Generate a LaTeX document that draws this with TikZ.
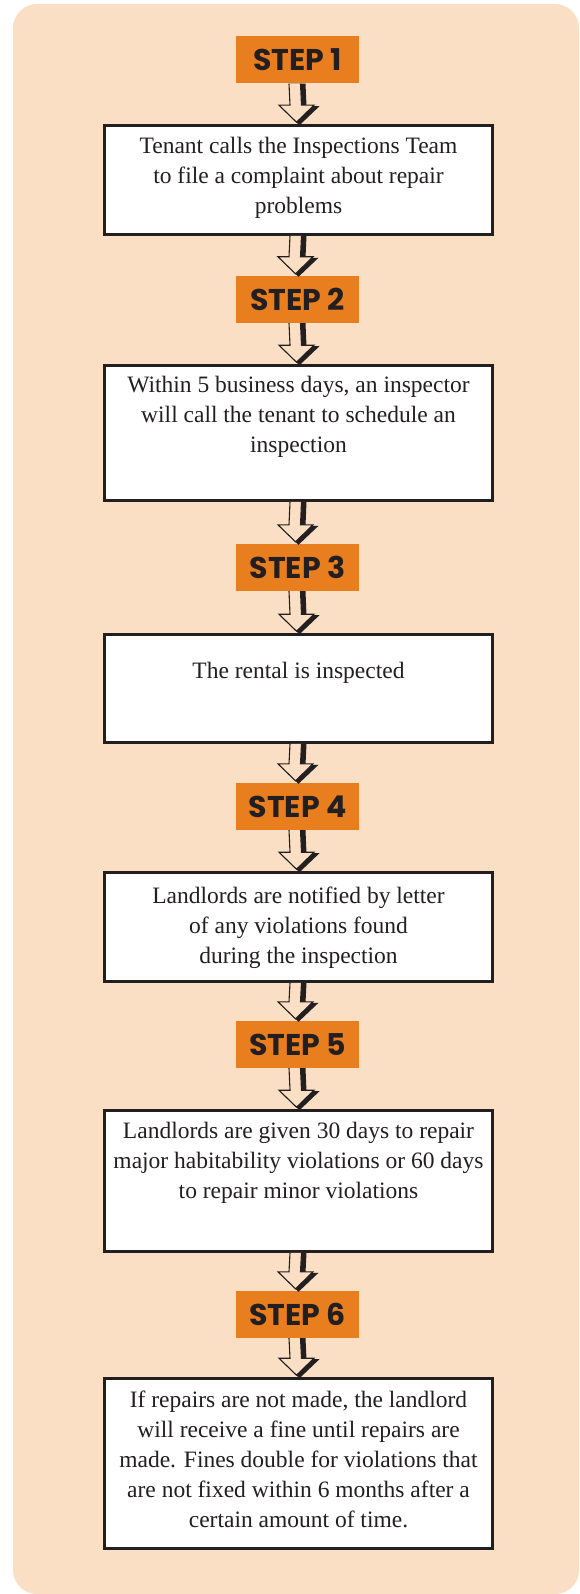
\documentclass[tikz,border=0pt]{standalone}
\usepackage{xcolor}
\usepackage{fontspec}
\setmainfont{Liberation Serif}
\newfontfamily\stepfont{Poppins}
\usepackage{tikz}
\usetikzlibrary{calc}
\definecolor{peach}{RGB}{250,223,197}
\definecolor{steporange}{RGB}{233,126,30}
\definecolor{ink}{RGB}{35,31,32}

\begin{document}
\begin{tikzpicture}[x=1pt,y=-1pt,
stepbox/.style={fill=steporange,minimum width=123pt,minimum height=47pt,inner sep=0pt,text=ink,font=\stepfont\bfseries\fontsize{30}{30}\selectfont},
textbox/.style={draw=ink,fill=white,line width=2.6pt,minimum width=388pt,inner sep=0pt},
boxtext/.style={anchor=north,align=center,inner sep=0pt,text=ink,font=\fontsize{23.5}{30}\selectfont}]

\useasboundingbox (0,0) rectangle (579,1594);
\fill[peach,rounded corners=24pt] (13,4) rectangle (579,1594);

\node[stepbox] (s1) at (297.5,60) {STEP 1};
\node[textbox,minimum height=109pt] (b1) at (298.5,180) {};
\node[stepbox] (s2) at (297.5,299.5) {STEP 2};
\node[textbox,minimum height=135pt] (b2) at (298.5,433) {};
\node[stepbox] (s3) at (297.5,567.5) {STEP 3};
\node[textbox,minimum height=108pt] (b3) at (298.5,688.5) {};
\node[stepbox] (s4) at (297.5,806.5) {STEP 4};
\node[textbox,minimum height=109pt] (b4) at (298.5,927) {};
\node[stepbox] (s5) at (297.5,1044.5) {STEP 5};
\node[textbox,minimum height=141pt] (b5) at (298.5,1181) {};
\node[stepbox] (s6) at (297.5,1314.5) {STEP 6};
\node[textbox,minimum height=170pt] (b6) at (298.5,1463.5) {};

\node[boxtext] (t1) at ($(b1.north)+(0,13)$) {Tenant calls the Inspections Team\\to file a complaint about repair\\problems};
\node[boxtext] (t2) at ($(b2.north)+(0,12)$) {Within 5 business days, an inspector\\will call the tenant to schedule an\\inspection};
\node[boxtext] (t3) at ($(b3.north)+(0,29)$) {The rental is inspected};
\node[boxtext] (t4) at ($(b4.north)+(0,16)$) {Landlords are notified by letter\\of any violations found\\during the inspection};
\node[boxtext] (t5) at ($(b5.north)+(0,13)$) {Landlords are given 30 days to repair\\major habitability violations or 60 days\\to repair minor violations};
\node[boxtext] (t6) at ($(b6.north)+(0,14)$) {If repairs are not made, the landlord\\will receive a fine until repairs are\\made. Fines double for violations that\\are not fixed within 6 months after a\\certain amount of time.};

\foreach \a/\b in {s1/b1,b1/s2,s2/b2,b2/s3,s3/b3,b3/s4,s4/b4,b4/s5,s5/b5,b5/s6,s6/b6}{
\fill[ink] ($(\a.south)+(-8,0)$) -- ($(\b.north)+(-8,-18)$) -- ($(\b.north)+(-19,-18)$) -- ($(\b.north)+(1,1)$) -- ($(\b.north)+(21,-18)$) -- ($(\b.north)+(8,-18)$) -- ($(\a.south)+(8,0)$) -- cycle;
\draw[ink,fill=peach,line width=1.1pt,line join=miter] ($(\a.south)+(-8.5,0)$) -- ($(\b.north)+(-8.5,-19)$) -- ($(\b.north)+(-19.5,-19)$) -- ($(\b.north)+(-2,-2)$) -- ($(\b.north)+(15.5,-19)$) -- ($(\b.north)+(3,-19)$) -- ($(\a.south)+(3,0)$);
}

\end{tikzpicture}
\end{document}
